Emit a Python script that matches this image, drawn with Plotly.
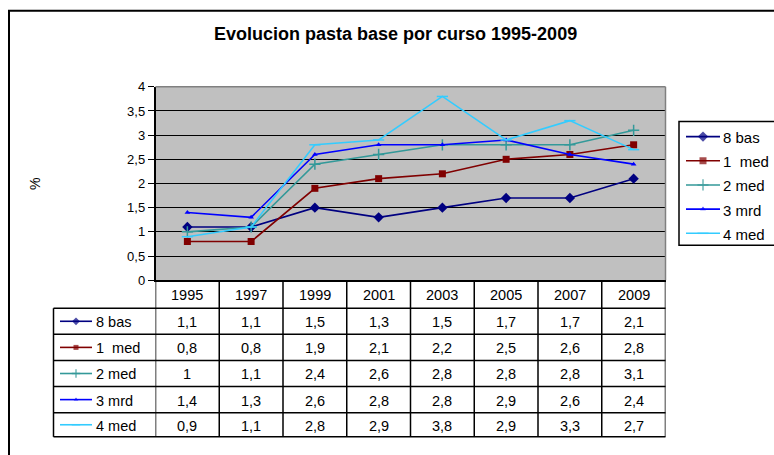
import plotly.graph_objects as go

years = ["1995", "1997", "1999", "2001", "2003", "2005", "2007", "2009"]
series_names = ["8 bas", "1  med", "2 med", "3 mrd", "4 med"]
s_8bas = [1.1, 1.1, 1.5, 1.3, 1.5, 1.7, 1.7, 2.1]
s_1med = [0.8, 0.8, 1.9, 2.1, 2.2, 2.5, 2.6, 2.8]
s_2med = [1.0, 1.1, 2.4, 2.6, 2.8, 2.8, 2.8, 3.1]
s_3mrd = [1.4, 1.3, 2.6, 2.8, 2.8, 2.9, 2.6, 2.4]
s_4med = [0.9, 1.1, 2.8, 2.9, 3.8, 2.9, 3.3, 2.7]
series_values = [s_8bas, s_1med, s_2med, s_3mrd, s_4med]
y_ticks = [0, 0.5, 1, 1.5, 2, 2.5, 3, 3.5, 4]
y_ticktext = ["0", "0,5", "1", "1,5", "2", "2,5", "3", "3,5", "4"]

colors = ["#000080", "#800000", "#339999", "#0000FF", "#33CCFF"]
symbols = ["diamond", "square", "cross-thin", "triangle-up", "line-ew"]
msizes = [8, 7, 8, 5, 8]

W, H = 774, 455
FONT = "Liberation Sans, Arial, sans-serif"


def X(px):
    return px / W


def Y(py):
    return 1 - py / H


# layout geometry (pixels)
PL, PR, PT, PB = 155.5, 665.5, 82.5, 282.5
TBL_L = 53.5
ROW_EDGES = [311.5, 338.5, 365.5, 392.5, 419.5, 444.5]

fig = go.Figure()

for name, vals, c, sym, ms in zip(series_names, series_values, colors, symbols, msizes):
    fig.add_trace(go.Scatter(
        x=list(range(len(years))), y=vals, name=name, mode="lines+markers",
        line=dict(color=c, width=1.6),
        marker=dict(symbol=sym, size=ms, color=c,
                    line=dict(color=c, width=1.5 if sym in ("cross-thin", "line-ew") else 0)),
        showlegend=False, cliponaxis=False,
    ))

shapes = []
annotations = []

# plot background
shapes.append(dict(type="rect", xref="x domain", yref="y domain", x0=0, x1=1, y0=0, y1=1,
                   fillcolor="#C0C0C0", line=dict(width=0), layer="below"))
# plot border top / right (gray)
shapes.append(dict(type="line", xref="paper", yref="paper", x0=X(PL), x1=X(PR), y0=Y(PT), y1=Y(PT),
                   line=dict(color="#808080", width=1.5)))
shapes.append(dict(type="line", xref="paper", yref="paper", x0=X(PR), x1=X(PR), y0=Y(PT), y1=Y(PB),
                   line=dict(color="#808080", width=1.5)))

# outer chart border
shapes.append(dict(type="rect", xref="paper", yref="paper", x0=X(9), x1=X(800), y0=Y(4), y1=Y(480),
                   line=dict(color="black", width=2), fillcolor="rgba(0,0,0,0)"))

# table lines
tbl_bottom = ROW_EDGES[-1]
for i in range(len(years) + 1):
    shapes.append(dict(type="line", xref="x", yref="paper", x0=i - 0.5, x1=i - 0.5,
                       y0=Y(PB), y1=Y(tbl_bottom), line=dict(color="black", width=1.5)))
shapes.append(dict(type="line", xref="paper", yref="paper", x0=X(TBL_L), x1=X(TBL_L),
                   y0=Y(ROW_EDGES[0]), y1=Y(tbl_bottom), line=dict(color="black", width=1.5)))
for ye in ROW_EDGES:
    shapes.append(dict(type="line", xref="paper", yref="paper", x0=X(TBL_L), x1=X(PR),
                       y0=Y(ye), y1=Y(ye), line=dict(color="black", width=1.5)))

CELL_FONT = dict(size=14.5, color="black", family=FONT)

# header years
for i, yr in enumerate(years):
    annotations.append(dict(x=i, xref="x", y=Y((PB + ROW_EDGES[0]) / 2 + 1), yref="paper",
                            text=yr, showarrow=False, font=CELL_FONT,
                            xanchor="center", yanchor="middle"))

# table rows
row_centers = [(ROW_EDGES[k] + ROW_EDGES[k + 1]) / 2 for k in range(5)]
leg_x, leg_y = [], []
tbl_x, tbl_y = [], []
for k, (name, vals, c) in enumerate(zip(series_names, series_values, colors)):
    yc = row_centers[k]
    for i, v in enumerate(vals):
        txt = (f"{v:g}").replace(".", ",")
        annotations.append(dict(x=i, xref="x", y=Y(yc + 1), yref="paper", text=txt, showarrow=False,
                                font=CELL_FONT, xanchor="center", yanchor="middle"))
    shapes.append(dict(type="line", xref="paper", yref="paper", x0=X(60), x1=X(92), y0=Y(yc), y1=Y(yc),
                       line=dict(color=c, width=1.6)))
    annotations.append(dict(x=X(94), xref="paper", y=Y(yc + 1), yref="paper", text=name, showarrow=False,
                            font=CELL_FONT, xanchor="left", yanchor="middle"))
    tbl_x.append(76)
    tbl_y.append(yc)

# right legend
LG_T, LG_B, LG_L = 118.5, 246.5, 679
shapes.append(dict(type="rect", xref="paper", yref="paper", x0=X(LG_L), x1=X(800), y0=Y(LG_T), y1=Y(LG_B),
                   line=dict(color="black", width=1.5), fillcolor="white", layer="below"))
leg_rows = [134, 159, 184, 209, 234]
for k, (name, c) in enumerate(zip(series_names, colors)):
    yc = leg_rows[k]
    shapes.append(dict(type="line", xref="paper", yref="paper", x0=X(686), x1=X(720), y0=Y(yc), y1=Y(yc),
                       line=dict(color=c, width=1.6)))
    annotations.append(dict(x=X(721), xref="paper", y=Y(yc + 1), yref="paper", text=name, showarrow=False,
                            font=dict(size=15, color="black", family=FONT), xanchor="left", yanchor="middle"))
    leg_x.append(703)
    leg_y.append(yc)

# marker glyphs for legend and table samples (overlay pixel axes)
for k, (c, sym, ms) in enumerate(zip(colors, symbols, msizes)):
    lw = 1.5 if sym in ("cross-thin", "line-ew") else 0
    fig.add_trace(go.Scatter(x=[leg_x[k], tbl_x[k]], y=[leg_y[k], tbl_y[k]], mode="markers",
                             xaxis="x2", yaxis="y2", showlegend=False, hoverinfo="skip",
                             marker=dict(symbol=sym, size=[ms, max(ms - 2, 4)], color=c,
                                         line=dict(color=c, width=lw))))

# title and axis title
annotations.append(dict(x=X(395), xref="paper", y=Y(28), yref="paper",
                        text="<b>Evolucion pasta base por curso 1995-2009</b>", showarrow=False,
                        font=dict(size=18, color="black", family=FONT), xanchor="center", yanchor="middle"))
annotations.append(dict(x=X(35), xref="paper", y=Y(183), yref="paper", text="%", showarrow=False,
                        textangle=-90, font=dict(size=14, color="black", family=FONT),
                        xanchor="center", yanchor="middle"))

fig.update_layout(
    width=W, height=H,
    margin=dict(l=0, r=0, t=0, b=0),
    paper_bgcolor="white", plot_bgcolor="rgba(0,0,0,0)",
    font=dict(family=FONT, color="black"),
    showlegend=False,
    xaxis=dict(domain=[X(PL), X(PR)], range=[-0.5, 7.5], showticklabels=False,
               showgrid=False, zeroline=False, showline=True, linecolor="black", linewidth=1.5,
               ticks="", fixedrange=True),
    yaxis=dict(domain=[Y(PB), Y(PT)], range=[0, 4], tickvals=y_ticks, ticktext=y_ticktext,
               showgrid=True, gridcolor="black", gridwidth=1.3, zeroline=False,
               showline=True, linecolor="black", linewidth=1.5, ticks="outside", ticklen=6,
               tickcolor="black", tickwidth=1.3, tickfont=dict(size=13, color="black", family=FONT),
               fixedrange=True),
    xaxis2=dict(domain=[0, 1], range=[0, W], visible=False, anchor="y2", fixedrange=True),
    yaxis2=dict(domain=[0, 1], range=[H, 0], visible=False, anchor="x2", fixedrange=True),
    shapes=shapes,
    annotations=annotations,
)

fig.write_html("out.html", config={"displayModeBar": False},
               post_script="document.body.style.margin='0';document.body.style.padding='0';")
